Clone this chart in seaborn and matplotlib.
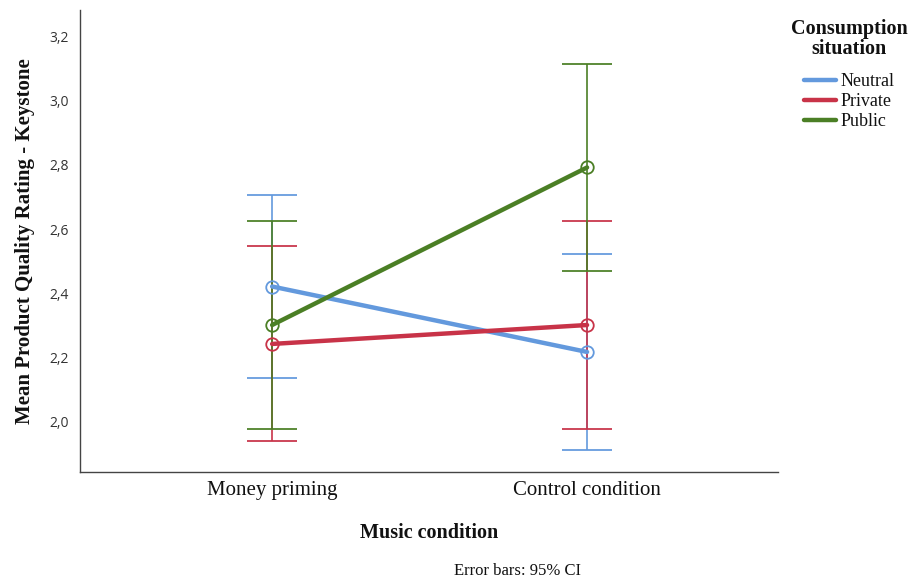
import matplotlib
matplotlib.use("Agg")
import matplotlib.pyplot as plt
import seaborn as sns
import pandas as pd
from matplotlib.lines import Line2D

# Cell means and 95% confidence limits
music_conditions = ["Money priming", "Control condition"]
situations = ["Neutral", "Private", "Public"]
mean_neutral = [2.421, 2.217]
mean_private = [2.242, 2.301]
mean_public = [2.301, 2.792]
lower_neutral = [2.135, 1.912]
upper_neutral = [2.707, 2.521]
lower_private = [1.938, 1.976]
upper_private = [2.546, 2.626]
lower_public = [1.976, 2.468]
upper_public = [2.625, 3.115]
y_ticks = [2.0, 2.2, 2.4, 2.6, 2.8, 3.0, 3.2]

colors = {"Neutral": "#6399dd", "Private": "#c83348", "Public": "#4b7f25"}

means = {"Neutral": mean_neutral, "Private": mean_private, "Public": mean_public}
lows = {"Neutral": lower_neutral, "Private": lower_private, "Public": lower_public}
highs = {"Neutral": upper_neutral, "Private": upper_private, "Public": upper_public}

rows = []
for s in situations:
    for i, m in enumerate(music_conditions):
        rows.append({"pos": i, "music": m, "situation": s, "mean": means[s][i],
                     "lo": lows[s][i], "hi": highs[s][i]})
df = pd.DataFrame(rows)

sns.set_theme(style="white")
serif = ["Liberation Serif", "DejaVu Serif"]

fig = plt.figure(figsize=(9.12, 5.83), dpi=100)
ax = fig.add_axes([0.0877, 0.191, 0.7653, 0.792])

# Error bars with caps
for s in situations:
    d = df[df.situation == s]
    cont = ax.errorbar(d["pos"].to_numpy(), d["mean"].to_numpy(),
                       yerr=[(d["mean"] - d["lo"]).to_numpy(), (d["hi"] - d["mean"]).to_numpy()],
                       fmt="none", ecolor=colors[s], elinewidth=1.4, capsize=18,
                       capthick=1.4, zorder=2)
    for cap in cont[1]:
        cap.set_color(colors[s])
        cap.set_markeredgecolor(colors[s])
        cap.set_alpha(0.9)
    for bar in cont[2]:
        bar.set_color(colors[s])
        bar.set_alpha(0.85)

# Mean lines with open circle markers
sns.lineplot(data=df, x="pos", y="mean", hue="situation", hue_order=situations,
             palette=colors, linewidth=3.2, marker="o", markersize=9,
             markerfacecolor="none", markeredgewidth=1.3, ax=ax, zorder=3,
             legend=False)
for line in ax.lines:
    if line.get_marker() == "o":
        line.set_markeredgecolor(line.get_color())

ax.set_xlim(-0.61, 1.606)
ax.set_ylim(1.844, 3.283)
ax.set_xticks([0, 1])
ax.set_xticklabels(music_conditions, fontfamily=serif, fontsize=15, color="#111111")
ax.set_yticks(y_ticks)
ax.set_yticklabels([f"{v:.1f}".replace(".", ",") for v in y_ticks],
                   fontsize=10, color="#333333", fontfamily=["Open Sans", "DejaVu Sans"])
ax.tick_params(axis="both", length=0)
ax.tick_params(axis="y", pad=8)
ax.tick_params(axis="x", pad=7)

for side in ["top", "right"]:
    ax.spines[side].set_visible(False)
for side in ["left", "bottom"]:
    ax.spines[side].set_color("#444444")
    ax.spines[side].set_linewidth(1.0)

ax.set_xlabel("Music condition", fontfamily=serif, fontsize=14.5, fontweight="bold",
              labelpad=16, color="#111111")
ax.set_ylabel("Mean Product Quality Rating - Keystone", fontfamily=serif, fontsize=15,
              fontweight="bold", labelpad=10, color="#111111")

# Legend
fig.text(849 / 912, 1 - 39 / 583, "Consumption\nsituation", ha="center", va="center",
         multialignment="center", fontfamily=serif, fontsize=14.5, fontweight="bold",
         color="#111111", linespacing=1.0)
handles = [Line2D([0], [0], color=colors[s], linewidth=3.2) for s in situations]
leg = fig.legend(handles, situations, loc="upper center",
                 bbox_to_anchor=(849 / 912, 1 - 73 / 583),
                 frameon=False, prop={"family": serif, "size": 13},
                 handlelength=1.8, handletextpad=0.2, labelspacing=0.18,
                 borderpad=0, borderaxespad=0)
for t in leg.get_texts():
    t.set_color("#111111")

fig.text(517 / 912, 1 - 571 / 583, "Error bars: 95% CI", ha="center", va="center",
         fontfamily=serif, fontsize=12, color="#111111")

fig.savefig("out.png", dpi=100)
